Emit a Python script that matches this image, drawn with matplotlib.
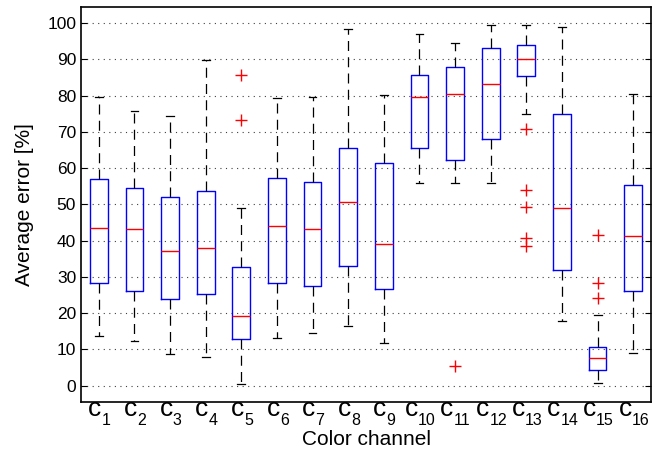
import matplotlib
matplotlib.use('Agg')
from matplotlib import pyplot as plt
from matplotlib.transforms import offset_copy

plt.rcParams['font.family'] = ['Liberation Sans', 'DejaVu Sans']

# Statystyki pudełek (kanały c1..c16)
channels = list(range(1, 17))
whislo = [13.6, 12.4, 8.8, 7.9, 0.6, 13.2, 14.5, 16.5, 11.7, 55.8, 55.8, 55.8, 74.9, 17.8, 0.7, 8.9]
q1 = [28.3, 26.2, 23.8, 25.3, 12.8, 28.3, 27.4, 33.1, 26.6, 65.6, 62.3, 68.0, 85.4, 32.0, 4.3, 26.2]
med = [43.6, 43.2, 37.2, 37.9, 19.3, 44.0, 43.2, 50.6, 39.1, 79.7, 80.5, 83.1, 90.2, 48.9, 7.6, 41.2]
q3 = [56.9, 54.5, 52.0, 53.7, 32.7, 57.4, 56.2, 65.6, 61.4, 85.8, 87.8, 93.1, 94.0, 74.9, 10.8, 55.4]
whishi = [79.6, 75.7, 74.4, 89.8, 48.9, 79.3, 79.6, 98.3, 80.1, 97.1, 94.6, 99.6, 99.6, 98.9, 19.4, 80.5]
fliers = [[], [], [], [], [85.7, 73.2], [], [], [], [], [], [5.4], [],
          [70.8, 54.1, 49.3, 40.8, 38.6], [], [41.6, 28.2, 24.1], []]

stats = []
for i in range(len(channels)):
    stats.append({'whislo': whislo[i], 'q1': q1[i], 'med': med[i], 'q3': q3[i],
                  'whishi': whishi[i], 'fliers': fliers[i]})

fig = plt.figure(figsize=(6.57, 4.49), dpi=100)
ax = fig.add_axes([0.1233, 0.1054, 0.8676, 0.8786])

ax.bxp(stats, positions=channels, widths=0.5, capwidths=0.22,
       boxprops=dict(color='blue', linewidth=1.0),
       medianprops=dict(color='red', linewidth=1.0),
       whiskerprops=dict(color='black', linestyle=(0, (8, 5)), linewidth=0.9),
       capprops=dict(color='black', linewidth=0.9),
       flierprops=dict(marker='+', markeredgecolor='red', markersize=8, linestyle='none'))

ax.set_xlim(0.5, 16.5)
ax.set_ylim(-4.4, 104.4)
ax.set_yticks(range(0, 101, 10))
ax.set_xticks(channels)
ax.set_xticklabels([])
ax.tick_params(axis='y', labelsize=12.5, direction='in', length=4, right=True)
ax.tick_params(axis='x', direction='in', length=0)
ax.yaxis.grid(True, linestyle=(0, (1, 4)), color='0.25', linewidth=0.8)
ax.set_axisbelow(True)
for s in ax.spines.values():
    s.set_linewidth(1.2)

# etykiety osi x: duże "c" i obniżony indeks
trans = ax.get_xaxis_transform()
c_w = 9.0      # szerokość "c" w punktach
d_w = 6.1      # szerokość cyfry w punktach
for c in channels:
    digits = str(c)
    total = c_w + d_w * len(digits)
    left = -total / 2
    ax.text(c, 0, 'c', fontsize=19, ha='left', va='baseline',
            transform=offset_copy(trans, fig, x=left, y=-10.3, units='points'))
    ax.text(c, 0, digits, fontsize=11.5, ha='left', va='baseline',
            transform=offset_copy(trans, fig, x=left + c_w + 0.6, y=-16.8, units='points'))

ax.text(0.5, -0.1097, 'Color channel', fontsize=15, ha='center', va='baseline',
        transform=ax.transAxes)
ax.text(-0.1, 0.5, 'Average error [%]', fontsize=15, ha='center', va='center',
        rotation=90, transform=ax.transAxes)

plt.savefig('out.png', dpi=100)
